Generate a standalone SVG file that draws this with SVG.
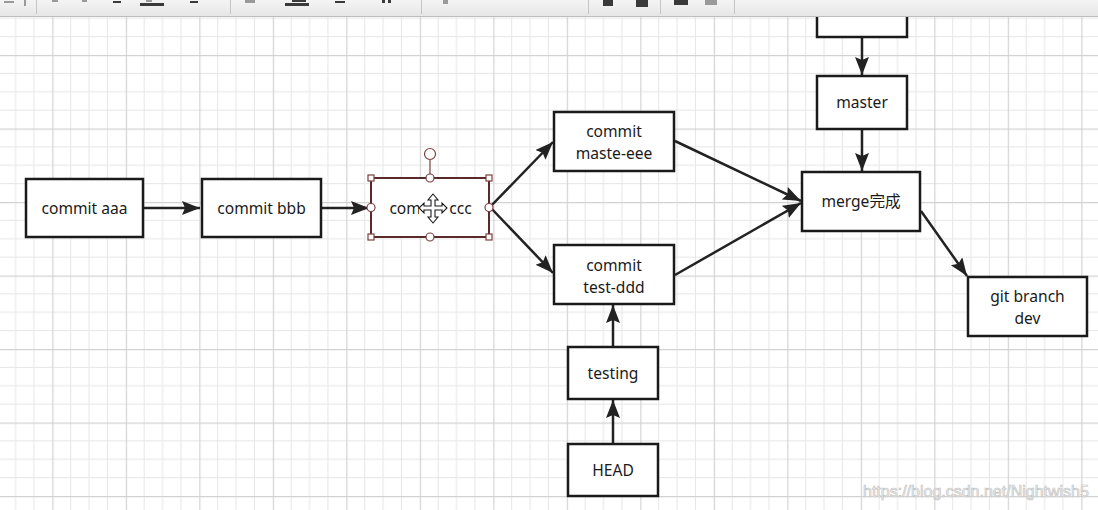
<svg xmlns="http://www.w3.org/2000/svg" width="1098" height="510" viewBox="0 0 1098 510">
<style>
.node{fill:#ffffff;stroke:#1a1a1a;stroke-width:2.5}
.lbl{font-family:"Noto Sans","Noto Sans CJK SC",sans-serif;font-size:15.6px;fill:#1a1a1a;text-anchor:middle}
.edge{fill:none;stroke:#222222;stroke-width:2.5}
.sel{fill:#ffffff;stroke:#5a2a2a;stroke-width:2}
.hdl{fill:#ffffff;stroke:#7a4040;stroke-width:1.2}
.tb{fill:#3a3a3a}
.tbl{fill:#9a9a9a}
.sep{stroke:#c4c4c4;stroke-width:1}
.wm{font-family:"Liberation Sans",Arial,sans-serif;font-size:16px;fill:#f6f6f6;stroke:#c4c4c4;stroke-width:0.7}
</style>
<defs>
<pattern id="grid" x="-21.2" y="-18.5" width="73.5" height="73.5" patternUnits="userSpaceOnUse">
<path d="M18.375 0V73.5M36.75 0V73.5M55.125 0V73.5M0 18.375H73.5M0 36.75H73.5M0 55.125H73.5" stroke="#e6e6e6" stroke-width="1" fill="none"/>
<path d="M0.5 0V73.5M0 0.5H73.5" stroke="#d2d2d2" stroke-width="1.3" fill="none"/>
</pattern>
<marker id="arr" markerUnits="userSpaceOnUse" markerWidth="20" markerHeight="16" refX="18" refY="7" orient="auto">
<path d="M0,0 L18,7 L0,14 L3,7 z" fill="#222222"/>
</marker>
<linearGradient id="tbg" x1="0" y1="0" x2="0" y2="1">
<stop offset="0" stop-color="#f4f4f4"/>
<stop offset="1" stop-color="#e6e6e6"/>
</linearGradient>
</defs>
<rect width="1098" height="510" fill="#ffffff"/>
<rect width="1098" height="510" fill="url(#grid)"/>

<g id="connectors">
<line class="edge" x1="144" y1="208" x2="200" y2="208" marker-end="url(#arr)"/>
<line class="edge" x1="322" y1="208" x2="369" y2="208" marker-end="url(#arr)"/>
<line class="edge" x1="490" y1="207" x2="553" y2="142" marker-end="url(#arr)"/>
<line class="edge" x1="490" y1="207" x2="553" y2="273" marker-end="url(#arr)"/>
<line class="edge" x1="675" y1="141" x2="801" y2="201" marker-end="url(#arr)"/>
<line class="edge" x1="675" y1="275" x2="801" y2="203" marker-end="url(#arr)"/>
<line class="edge" x1="862" y1="38" x2="862" y2="75" marker-end="url(#arr)"/>
<line class="edge" x1="862" y1="130" x2="862" y2="171" marker-end="url(#arr)"/>
<line class="edge" x1="921" y1="211" x2="967" y2="276" marker-end="url(#arr)"/>
<line class="edge" x1="613" y1="346" x2="613" y2="305" marker-end="url(#arr)"/>
<line class="edge" x1="613" y1="443" x2="613" y2="400" marker-end="url(#arr)"/>
</g>

<g id="n-aaa"><rect class="node" x="26" y="179" width="117" height="58"/><text class="lbl" x="84.5" y="214">commit aaa</text></g>
<g id="n-bbb"><rect class="node" x="202" y="179" width="119" height="58"/><text class="lbl" x="261.5" y="214">commit bbb</text></g>
<g id="n-ccc">
<rect class="sel" x="371" y="178" width="118" height="59"/>
<text class="lbl" x="430.5" y="214">commit ccc</text>
<line x1="430" y1="160" x2="430" y2="178" stroke="#7a4040" stroke-width="1.2"/>
<circle class="hdl" cx="430" cy="154" r="5.5"/>
<rect class="hdl" x="368" y="175" width="6" height="6"/>
<rect class="hdl" x="486" y="175" width="6" height="6"/>
<rect class="hdl" x="368" y="234" width="6" height="6"/>
<rect class="hdl" x="486" y="234" width="6" height="6"/>
<circle class="hdl" cx="430" cy="178" r="4"/>
<circle class="hdl" cx="430" cy="237" r="4"/>
<circle class="hdl" cx="371" cy="207.5" r="4"/>
<circle class="hdl" cx="489" cy="207.5" r="4"/>
<rect x="419" y="196" width="27" height="24" fill="#ffffff"/>
<path d="M433,194 L438,200 L435,200 L435,206 L442,206 L442,203 L447,208 L442,213 L442,210 L435,210 L435,217 L438,217 L433,223 L428,217 L431,217 L431,210 L424,210 L424,213 L419,208 L424,203 L424,206 L431,206 L431,200 L428,200 Z" fill="#ffffff" stroke="#1a1a1a" stroke-width="1.1" stroke-linejoin="miter"/>
</g>
<g id="n-eee"><rect class="node" x="554" y="112" width="120" height="59"/><text class="lbl" x="614" y="137">commit</text><text class="lbl" x="614" y="158.5">maste-eee</text></g>
<g id="n-ddd"><rect class="node" x="554" y="245" width="120" height="59"/><text class="lbl" x="614" y="271">commit</text><text class="lbl" x="614" y="292.5">test-ddd</text></g>
<g id="n-testing"><rect class="node" x="568" y="347" width="90" height="52"/><text class="lbl" x="613" y="379">testing</text></g>
<g id="n-head"><rect class="node" x="568" y="444" width="90" height="52"/><text class="lbl" x="613" y="476">HEAD</text></g>
<g id="n-top"><rect class="node" x="817" y="-8" width="90" height="45"/></g>
<g id="n-master"><rect class="node" x="817" y="76" width="90" height="53"/><text class="lbl" x="862" y="108">master</text></g>
<g id="n-merge"><rect class="node" x="802" y="172" width="118" height="59"/><text class="lbl" x="861" y="207">merge完成</text></g>
<g id="n-dev"><rect class="node" x="968" y="277" width="119" height="59"/><text class="lbl" x="1027.5" y="302">git branch</text><text class="lbl" x="1027.5" y="323.5">dev</text></g>

<g id="toolbar">
<rect x="0" y="0" width="1098" height="16" fill="url(#tbg)"/>
<line x1="0" y1="16.5" x2="1098" y2="16.5" stroke="#bdbdbd" stroke-width="1"/>
<line class="sep" x1="36.5" y1="0" x2="36.5" y2="14"/>
<line class="sep" x1="230.5" y1="0" x2="230.5" y2="14"/>
<line class="sep" x1="421.5" y1="0" x2="421.5" y2="14"/>
<line class="sep" x1="588.5" y1="0" x2="588.5" y2="14"/>
<line class="sep" x1="660.5" y1="0" x2="660.5" y2="14"/>
<line class="sep" x1="734.5" y1="0" x2="734.5" y2="14"/>
<rect class="tbl" x="4" y="1" width="10" height="2"/>
<rect class="tbl" x="24" y="0" width="2" height="6"/>
<rect class="tbl" x="52" y="0" width="6" height="2"/>
<rect class="tbl" x="82" y="0" width="5" height="2"/>
<rect class="tb" x="113" y="1" width="8" height="2"/>
<rect class="tb" x="140" y="3" width="24" height="3"/>
<rect class="tbl" x="146" y="0" width="6" height="2"/>
<rect class="tb" x="190" y="1" width="8" height="2"/>
<rect class="tbl" x="245" y="0" width="10" height="3"/>
<rect class="tb" x="285" y="3" width="24" height="3"/>
<rect class="tb" x="292" y="0" width="14" height="2"/>
<rect class="tb" x="335" y="1" width="10" height="2"/>
<rect class="tb" x="382" y="0" width="3" height="3"/>
<rect class="tb" x="388" y="0" width="3" height="3"/>
<rect class="tbl" x="443" y="0" width="5" height="4"/>
<rect class="tb" x="603" y="0" width="10" height="6"/>
<rect class="tb" x="636" y="0" width="12" height="7"/>
<rect class="tb" x="674" y="0" width="14" height="5"/>
<rect class="tbl" x="705" y="0" width="12" height="5"/>
</g>

<text class="wm" x="863" y="497">https://blog.csdn.net/Nightwish5</text>
</svg>
